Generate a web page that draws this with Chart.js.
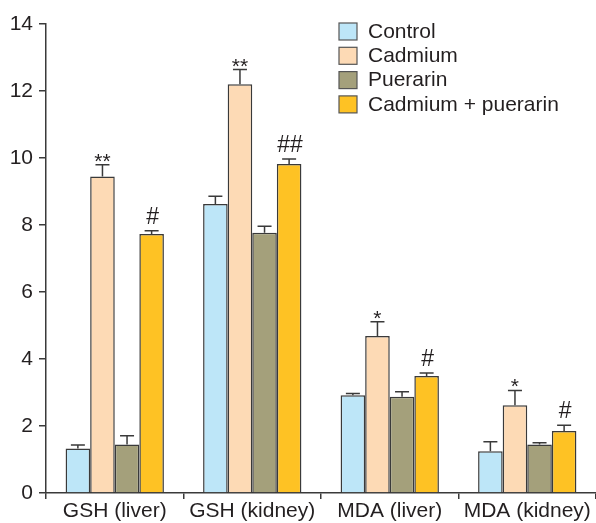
<!DOCTYPE html>
<html>
<head>
<meta charset="utf-8">
<script src="https://cdn.jsdelivr.net/npm/chart.js@4.4.1/dist/chart.umd.min.js"></script>
<style>
  html, body { margin: 0; padding: 0; background: #fff; }
</style>
</head>
<body>
<canvas id="chart" width="596" height="523"></canvas>
<script>
// ---- data ----
const categories = ["GSH (liver)", "GSH (kidney)", "MDA (liver)", "MDA (kidney)"];
const groups = ["Control", "Cadmium", "Puerarin", "Cadmium + puerarin"];

const controlVals  = [1.33, 8.63, 2.92, 1.25];
const cadmiumVals  = [9.45, 12.2, 4.69, 2.62];
const puerarinVals = [1.45, 7.77, 2.87, 1.45];
const comboVals    = [7.73, 9.82, 3.49, 1.85];

// upper error (SD)
const controlErr  = [0.10, 0.23, 0.05, 0.28];
const cadmiumErr  = [0.35, 0.44, 0.42, 0.44];
const puerarinErr = [0.26, 0.19, 0.15, 0.05];
const comboErr    = [0.10, 0.15, 0.09, 0.17];

// significance marks
const controlMarks  = ["", "", "", ""];
const cadmiumMarks  = ["**", "**", "*", "*"];
const puerarinMarks = ["", "", "", ""];
const comboMarks    = ["#", "##", "#", "#"];

const yTicks = [0, 2, 4, 6, 8, 10, 12, 14];

const colors = ["#bde6f8", "#fddab5", "#a4a07b", "#fec224"];
const ink = "#231f20";
const edge = "#3a3a3a";
const FONT = "'Liberation Sans', Arial, Helvetica, sans-serif";

const values = [controlVals, cadmiumVals, puerarinVals, comboVals];
const errors = [controlErr, cadmiumErr, puerarinErr, comboErr];
const marks = [controlMarks, cadmiumMarks, puerarinMarks, comboMarks];

// error bars + significance text
const errorBarPlugin = {
    id: "errorBars",
    afterDatasetsDraw(chart) {
        const ctx = chart.ctx;
        const y = chart.scales.y;
        ctx.save();
        chart.data.datasets.forEach((ds, di) => {
            const meta = chart.getDatasetMeta(di);
            meta.data.forEach((bar, i) => {
                const top = y.getPixelForValue(ds.data[i]);
                const errTop = y.getPixelForValue(ds.data[i] + ds.err[i]);
                ctx.strokeStyle = edge;
                ctx.lineWidth = 1.5;
                ctx.beginPath();
                ctx.moveTo(bar.x, top);
                ctx.lineTo(bar.x, errTop);
                ctx.moveTo(bar.x - 7, errTop);
                ctx.lineTo(bar.x + 7, errTop);
                ctx.stroke();

                const m = ds.marks[i];
                if (m) {
                    ctx.fillStyle = ink;
                    ctx.textAlign = "center";
                    ctx.textBaseline = "alphabetic";
                    if (m.indexOf("*") >= 0) {
                        ctx.font = "21px " + FONT;
                        ctx.fillText(m, bar.x, errTop + 3);
                    } else {
                        ctx.font = "23px " + FONT;
                        ctx.fillText(m, bar.x + 1, errTop - 7);
                    }
                }
            });
        });
        ctx.restore();
    }
};

// legend drawn over the plot, top right
const legendPlugin = {
    id: "insetLegend",
    afterDraw(chart) {
        const ctx = chart.ctx;
        const x0 = 339, y0 = 23, rowH = 24.3;
        ctx.save();
        ctx.font = "21px " + FONT;
        ctx.textAlign = "left";
        ctx.textBaseline = "middle";
        chart.data.datasets.forEach((ds, i) => {
            const yy = y0 + i * rowH;
            ctx.fillStyle = ds.backgroundColor;
            ctx.fillRect(x0, yy, 18, 17);
            ctx.strokeStyle = "#555";
            ctx.lineWidth = 1.2;
            ctx.strokeRect(x0, yy, 18, 17);
            ctx.fillStyle = ink;
            ctx.fillText(ds.label, x0 + 29, yy + 9);
        });
        ctx.restore();
    }
};

const datasets = groups.map((g, i) => ({
    label: g,
    data: values[i],
    err: errors[i],
    marks: marks[i],
    backgroundColor: colors[i],
    borderColor: edge,
    borderWidth: 1.5,
    categoryPercentage: 0.715,
    barPercentage: 1.0
}));

new Chart(document.getElementById("chart"), {
    type: "bar",
    data: { labels: categories, datasets: datasets },
    options: {
        responsive: false,
        animation: false,
        devicePixelRatio: 1,
        layout: { padding: { top: 24, right: 0, bottom: 0, left: 0 } },
        plugins: {
            legend: { display: false },
            tooltip: { enabled: false }
        },
        scales: {
            x: {
                offset: true,
                grid: {
                    offset: true,
                    drawOnChartArea: false,
                    drawTicks: true,
                    tickLength: 6,
                    color: edge,
                    lineWidth: 1.5
                },
                border: { display: true, color: edge, width: 1.5 },
                ticks: {
                    color: ink,
                    padding: 2,
                    font: { family: FONT, size: 21, lineHeight: 1 },
                    maxRotation: 0
                },
                afterFit: s => { s.height = 30; }
            },
            y: {
                min: 0,
                max: 14,
                afterBuildTicks: s => { s.ticks = yTicks.map(v => ({ value: v })); },
                grid: {
                    drawOnChartArea: false,
                    drawTicks: true,
                    tickLength: 7,
                    color: edge,
                    lineWidth: 1.5
                },
                border: { display: true, color: edge, width: 1.5 },
                ticks: {
                    color: ink,
                    padding: 6,
                    font: { family: FONT, size: 21 }
                },
                afterFit: s => { s.width = 46; }
            }
        }
    },
    plugins: [errorBarPlugin, legendPlugin]
});
</script>
</body>
</html>
